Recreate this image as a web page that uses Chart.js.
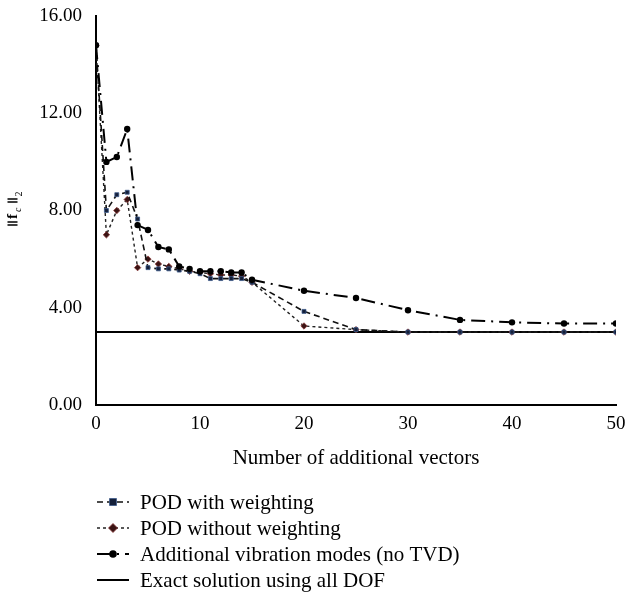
<!DOCTYPE html>
<html>
<head>
<meta charset="utf-8">
<script src="https://cdn.jsdelivr.net/npm/chart.js@4.4.1/dist/chart.umd.min.js"></script>
<style>
  html, body { margin: 0; padding: 0; background: #fff; }
  #wrap { width: 626px; height: 593px; position: relative; }
</style>
</head>
<body>
<div id="wrap"><canvas id="chart" width="626" height="593"></canvas></div>
<script>
// x positions (number of additional vectors)
const vectors = [0, 1, 2, 3, 4, 5, 6, 7, 8, 9, 10, 11, 12, 13, 14, 15, 20, 25, 30, 35, 40, 45, 50];

// ||f_c||_2 values
const podWeighted = [14.8, 8.0, 8.65, 8.75, 7.65, 5.65, 5.6, 5.6, 5.55, 5.5, 5.4, 5.2, 5.2, 5.2, 5.2, 5.05, 3.85, 3.1, 3.0, 3.0, 3.0, 3.0, 3.0];
const podUnweighted = [14.8, 7.0, 8.0, 8.45, 5.65, 6.0, 5.8, 5.7, 5.6, 5.5, 5.45, 5.4, 5.35, 5.35, 5.3, 5.05, 3.25, 3.1, 3.0, 3.0, 3.0, 3.0, 3.0];
const vibrationModes = [14.8, 10.0, 10.2, 11.35, 7.4, 7.2, 6.5, 6.4, 5.7, 5.6, 5.5, 5.5, 5.5, 5.45, 5.45, 5.15, 4.7, 4.4, 3.9, 3.5, 3.4, 3.35, 3.35];
const exactX = [0, 50];
const exactValue = [3.0, 3.0];

const yTicks = [0, 4, 8, 12, 16];
const xTicks = [0, 10, 20, 30, 40, 50];

const xTitle = 'Number of additional vectors';
const legendLabels = [
    'POD with weighting',
    'POD without weighting',
    'Additional vibration modes (no TVD)',
    'Exact solution using all DOF'
];

const serif = '"Liberation Serif", "DejaVu Serif", serif';

function toPoints(xs, ys) {
    return xs.map((x, i) => ({ x: x, y: ys[i] }));
}

const datasets = [
    {
        label: legendLabels[0],
        data: toPoints(vectors, podWeighted),
        borderColor: '#111',
        borderWidth: 1.6,
        borderDash: [6, 4],
        pointStyle: 'rect',
        pointRadius: 2.8,
        pointBorderWidth: 0.8,
        pointBackgroundColor: '#15203a',
        pointBorderColor: '#3d5a8a',
        order: 2
    },
    {
        label: legendLabels[1],
        data: toPoints(vectors, podUnweighted),
        borderColor: '#222',
        borderWidth: 1.4,
        borderDash: [3, 3],
        pointStyle: 'rectRot',
        pointRadius: 3.2,
        pointBorderWidth: 0.8,
        pointBackgroundColor: '#3a1414',
        pointBorderColor: '#8a3a3a',
        order: 3
    },
    {
        label: legendLabels[2],
        data: toPoints(vectors, vibrationModes),
        borderColor: '#000',
        borderWidth: 2,
        borderDash: [14, 6, 2, 6],
        pointStyle: 'circle',
        pointRadius: 3.2,
        pointBorderWidth: 0,
        pointBackgroundColor: '#000',
        order: 1
    },
    {
        label: legendLabels[3],
        data: toPoints(exactX, exactValue),
        borderColor: '#000',
        borderWidth: 2,
        pointRadius: 0,
        order: 4
    }
];

// y axis title ||f_c||_2, x axis title and legend drawn on canvas
const extrasPlugin = {
    id: 'extras',
    afterDraw(chart) {
        const ctx = chart.ctx;
        const area = chart.chartArea;

        // y axis title, rotated (text runs bottom to top)
        ctx.save();
        ctx.translate(17, 208);
        ctx.rotate(-Math.PI / 2);
        ctx.fillStyle = '#000';
        ctx.strokeStyle = '#000';
        ctx.lineWidth = 1.3;
        ctx.textBaseline = 'alphabetic';
        function bars(x) {
            ctx.beginPath();
            ctx.moveTo(x, 0.5); ctx.lineTo(x, -9.5);
            ctx.moveTo(x + 3, 0.5); ctx.lineTo(x + 3, -9.5);
            ctx.stroke();
        }
        bars(-17);
        ctx.font = 'bold 15px ' + serif;
        ctx.fillText('f', -11, 0);
        ctx.font = 'italic 10px ' + serif;
        ctx.fillText('c', -4, 4);
        bars(6);
        ctx.font = '10px ' + serif;
        ctx.fillText('2', 11.5, 5);
        ctx.restore();

        // x axis title
        ctx.save();
        ctx.fillStyle = '#000';
        ctx.font = '21px ' + serif;
        ctx.textAlign = 'center';
        ctx.textBaseline = 'middle';
        ctx.fillText(xTitle, (area.left + area.right) / 2, 458);
        ctx.restore();

        // legend
        const rowsY = [502, 528, 554, 580];
        ctx.save();
        chart.data.datasets.forEach((ds, i) => {
            const y = rowsY[i];
            ctx.strokeStyle = ds.borderColor;
            ctx.lineWidth = ds.borderWidth;
            ctx.setLineDash(ds.borderDash || []);
            ctx.beginPath();
            ctx.moveTo(97, y);
            ctx.lineTo(129, y);
            ctx.stroke();
            ctx.setLineDash([]);
            if (ds.pointRadius > 0) {
                ctx.fillStyle = ds.pointBackgroundColor;
                ctx.strokeStyle = ds.pointBorderColor || ds.pointBackgroundColor;
                ctx.lineWidth = ds.pointBorderWidth || 0.01;
                ctx.beginPath();
                if (ds.pointStyle === 'rect') {
                    ctx.rect(113 - 3.5, y - 3.5, 7, 7);
                } else if (ds.pointStyle === 'rectRot') {
                    ctx.moveTo(113, y - 4.5); ctx.lineTo(117.5, y); ctx.lineTo(113, y + 4.5); ctx.lineTo(108.5, y); ctx.closePath();
                } else {
                    ctx.arc(113, y, 3.8, 0, Math.PI * 2);
                }
                ctx.fill();
                if (ds.pointBorderWidth) ctx.stroke();
            }
            ctx.fillStyle = '#000';
            ctx.font = '21px ' + serif;
            ctx.textBaseline = 'middle';
            ctx.fillText(ds.label, 140, y + 1);
        });
        ctx.restore();
    }
};

new Chart(document.getElementById('chart'), {
    type: 'line',
    data: { datasets: datasets },
    options: {
        responsive: false,
        animation: false,
        layout: { padding: { top: 16, right: 10, left: 0, bottom: 0 } },
        plugins: {
            legend: { display: false },
            tooltip: { enabled: false }
        },
        scales: {
            x: {
                type: 'linear',
                min: 0,
                max: 50,
                afterBuildTicks: s => { s.ticks = xTicks.map(v => ({ value: v })); },
                afterFit: s => { s.height = 188; s.paddingRight = 0; s.paddingLeft = 0; },
                grid: { display: false, drawOnChartArea: false, drawTicks: true, tickLength: 4, tickColor: '#000', tickWidth: 2 },
                border: { color: '#000', width: 2 },
                ticks: {
                    color: '#000',
                    padding: 4,
                    font: { family: serif, size: 19 },
                    maxRotation: 0
                }
            },
            y: {
                min: 0,
                max: 16,
                afterBuildTicks: s => { s.ticks = yTicks.map(v => ({ value: v })); },
                afterFit: s => { s.width = 96; s.paddingTop = 0; s.paddingBottom = 0; },
                grid: { display: false, drawOnChartArea: false, drawTicks: true, tickLength: 6, tickColor: '#000', tickWidth: 2 },
                border: { color: '#000', width: 2 },
                ticks: {
                    color: '#000',
                    padding: 8,
                    font: { family: serif, size: 19 },
                    callback: v => v.toFixed(2)
                }
            }
        }
    },
    plugins: [extrasPlugin]
});
</script>
</body>
</html>
